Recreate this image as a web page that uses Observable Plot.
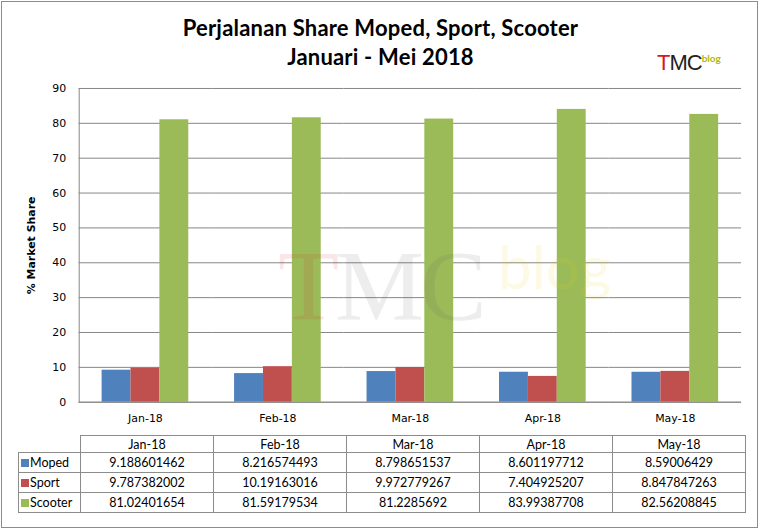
<!DOCTYPE html>
<html>
<head>
<meta charset="utf-8">
<script src="https://cdn.jsdelivr.net/npm/d3@7"></script>
<script src="https://cdn.jsdelivr.net/npm/@observablehq/plot@0.6"></script>
<style>
  html, body { margin: 0; padding: 0; background: #fff; }
  #frame { position: relative; width: 755px; height: 525px; border: 1px solid #8c8c8c; margin: 1px 0 0 1px; overflow: hidden; background: #fff; }
  .title { position: absolute; left: 0; width: 757px; text-align: center; font-family: Lato, "Open Sans", sans-serif; font-weight: bold; font-size: 22px; letter-spacing: 0.2px; color: #000; }
  #chart { position: absolute; left: -1px; top: 79px; }
  #chart [aria-label="y-axis label"] text { font-weight: bold; }
  #tbl { position: absolute; left: 16px; top: 433px; border-collapse: collapse; font-family: Lato, "Open Sans", sans-serif; font-size: 12.5px; color: #000; }
  #tbl td { border: 1px solid #8c8c8c; padding: 0; text-align: center; font-weight: normal; }
  #tbl td.lab { text-align: left; width: 59px; padding-left: 2px; }
  #tbl td.blank { border-top: none; border-left: none; }
  #tbl .key { display: inline-block; width: 8px; height: 8px; margin-right: 1px; }
  #logo { position: absolute; left: 655px; top: 48px; font-family: "Liberation Sans Narrow", "Liberation Sans", sans-serif; font-size: 22px; letter-spacing: -1px; }
  #wm { position: absolute; left: 276px; top: 226px; font-family: "Liberation Serif", serif; font-size: 100px; letter-spacing: -4px; opacity: 0.1; pointer-events: none; }
</style>
</head>
<body>
<div id="frame">
  <div class="title" style="top:12px">Perjalanan Share Moped, Sport, Scooter</div>
  <div class="title" style="top:41px">Januari - Mei 2018</div>
  <div id="logo"><span style="color:#d71920">T</span><span style="color:#222">MC</span><span style="font-family:Lato,sans-serif;font-size:10px;font-weight:bold;color:#b5b800;letter-spacing:0;vertical-align:8px">blog</span></div>
  <div id="chart"></div>
  <div id="wm"><span style="color:#d71920">T</span><span style="color:#555">MC</span><span style="font-family:Lato,sans-serif;font-size:60px;color:#e8d000;letter-spacing:0;vertical-align:30px"> blog</span></div>
  <table id="tbl"></table>
</div>
<script>
const months = ["Jan-18", "Feb-18", "Mar-18", "Apr-18", "May-18"];
const series = ["Moped", "Sport", "Scooter"];
const moped = [9.188601462, 8.216574493, 8.798651537, 8.601197712, 8.59006429];
const sport = [9.787382002, 10.19163016, 9.972779267, 7.404925207, 8.847847263];
const scooter = [81.02401654, 81.59179534, 81.2285692, 83.99387708, 82.56208845];
const colors = ["#4F81BD", "#C0504D", "#9BBB59"];
const yTicks = [0, 10, 20, 30, 40, 50, 60, 70, 80, 90];

const valuesBySeries = { Moped: moped, Sport: sport, Scooter: scooter };
const data = months.flatMap((m, i) => series.map(s => ({ month: m, series: s, value: valuesBySeries[s][i] })));

const chart = Plot.plot({
  width: 759,
  height: 351,
  marginLeft: 78,
  marginRight: 16,
  marginTop: 7,
  marginBottom: 29,
  style: { fontFamily: "DejaVu Sans, Verdana, sans-serif", fontSize: "11px", color: "#000", background: "transparent", overflow: "visible" },
  fx: { domain: months, padding: 0, label: null },
  x: { domain: series, paddingInner: 0, paddingOuter: 0.72, axis: null },
  y: { domain: [0, 90] },
  color: { domain: series, range: colors },
  marks: [
    Plot.gridY(yTicks, { stroke: "#868686", strokeOpacity: 1 }),
    Plot.barY(data, { fx: "month", x: "series", y: "value", fill: "series" }),
    Plot.ruleY([0], { stroke: "#868686" }),
    Plot.frame({ anchor: "left", stroke: "#868686", facetAnchor: "left" }),
    Plot.axisY(yTicks, { tickSize: 0, tickPadding: 13, label: "% Market Share", labelAnchor: "center", labelArrow: "none", labelOffset: 52 }),
    Plot.axisFx({ anchor: "bottom", tickSize: 0, tickPadding: 12, label: null })
  ]
});
document.getElementById("chart").appendChild(chart);

// data table below the chart
const tbl = d3.select("#tbl");
const head = tbl.append("tr").style("height", "17px");
head.append("td").attr("class", "blank lab");
months.forEach(m => head.append("td").style("width", "132px").text(m));
series.forEach((s, k) => {
  const tr = tbl.append("tr").style("height", "20px");
  const lab = tr.append("td").attr("class", "lab");
  lab.append("span").attr("class", "key").style("background", colors[k]);
  lab.append("span").text(s);
  valuesBySeries[s].forEach(v => tr.append("td").text(String(v)));
});
</script>
</body>
</html>
